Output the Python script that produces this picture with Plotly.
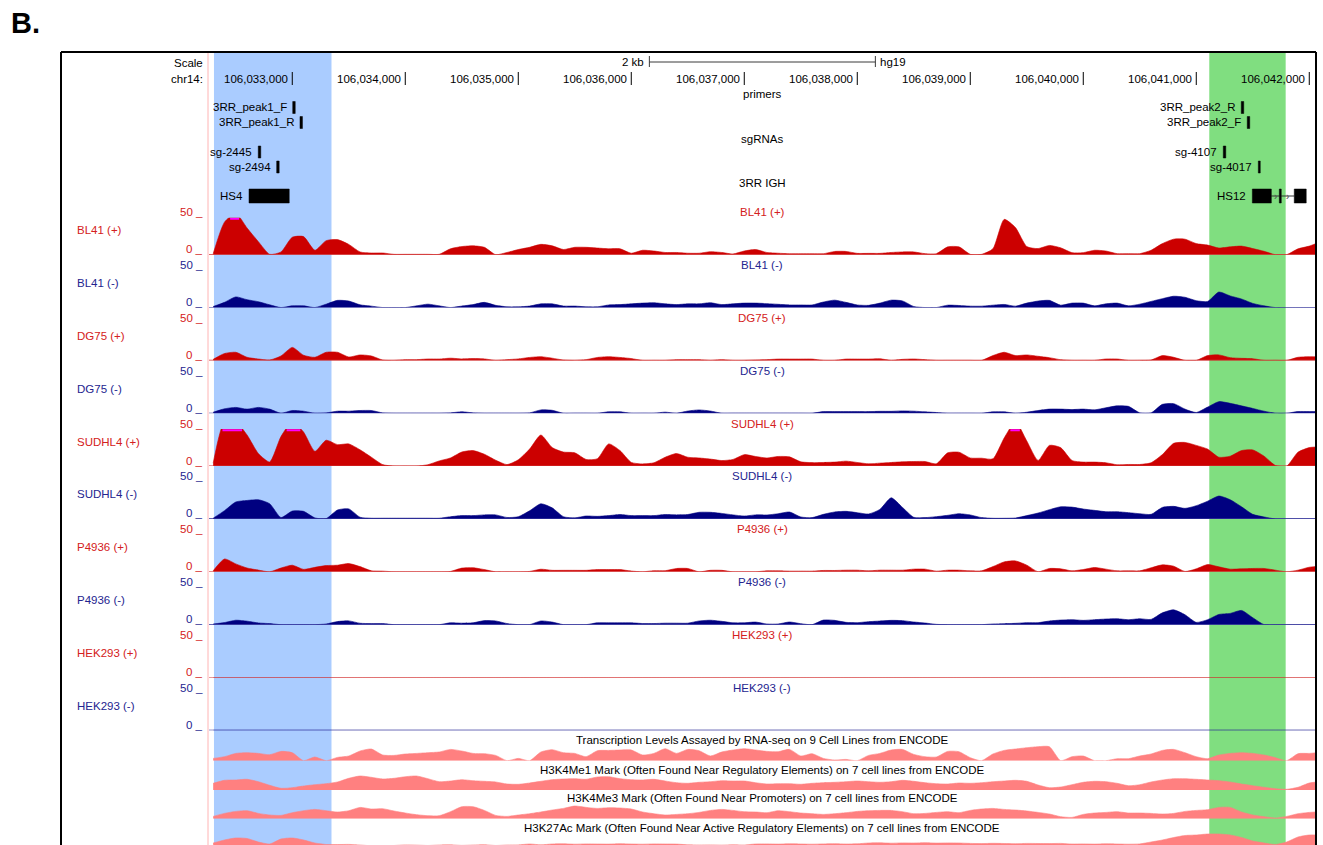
import plotly.graph_objects as go

# ---------------------------------------------------------------- data
ASSEMBLY = "hg19"
CHROM = "chr14"
VIEW = (106_032_263, 106_042_055)
RULER_TICKS = [106_033_000, 106_034_000, 106_035_000, 106_036_000, 106_037_000,
               106_038_000, 106_039_000, 106_040_000, 106_041_000, 106_042_000]
SCALE_BAR = (106_036_160, 106_038_160)
SCALE_LABEL = "2 kb"

HIGHLIGHT_HS4 = (106_032_307, 106_033_347)
HIGHLIGHT_HS12 = (106_041_115, 106_041_791)

PRIMERS = [("3RR_peak1_F", 106_033_004, 106_033_026),
           ("3RR_peak1_R", 106_033_068, 106_033_090),
           ("3RR_peak2_R", 106_041_398, 106_041_420),
           ("3RR_peak2_F", 106_041_451, 106_041_473)]
SGRNAS = [("sg-2445", 106_032_699, 106_032_721),
          ("sg-2494", 106_032_862, 106_032_884),
          ("sg-4107", 106_041_239, 106_041_261),
          ("sg-4017", 106_041_549, 106_041_566)]
IGH_3RR = [("HS4", [(106_032_617, 106_032_973)]),
           ("HS12", [(106_041_496, 106_041_664), (106_041_735, 106_041_752),
                     (106_041_867, 106_041_973)])]

# signal bins (100 bp)
BIN_START = 106_032_300
BIN_SIZE = 100

BL41_PLUS = [1.4, 44, 56, 36, 17.6, 0.5, 3.7, 23.6, 24.5, 6, 19, 20.4, 13.9, 3.7, 2.3, 2.3, 0.5, 0.5, 0.5, 0.5,
             0.5, 8, 11, 12, 10, 0, 3, 7, 10, 14, 12, 7, 10, 10, 9, 8, 8, 2, 6, 5,
             3, 3, 2, 2, 4, 3, 1, 5, 7, 3, 2, 1.3, 1.3, 1.3, 1.3, 4.4, 4.4, 1.8, 1.8, 1.8,
             3, 3.7, 3.7, 1.4, 1.4, 10.6, 10.6, 0.5, 0.5, 8, 47.7, 36.6, 11, 8.3, 12.5, 9.3, 2.8, 2.8, 6, 5,
             1.4, 1.4, 1.4, 6, 15, 21, 21, 15, 13, 9, 10.6, 11.6, 8.3, 4.6, 0, 0, 7.9, 11.6, 17.6]
BL41_MINUS = [1.4, 7, 14.4, 10.6, 7.9, 3.7, 0, 2.3, 2.3, 0, 4.6, 9.7, 8.8, 3.7, 1.9, 0, 0, 0, 2.3, 4.6,
              2.3, 0, 2, 4, 7, 3, 1, 1, 2, 5, 5, 2, 2, 1, 1, 3.5, 4, 5, 6, 6.5,
              5, 4, 5, 5, 6.5, 4, 5, 6, 6, 5.3, 4.4, 3.5, 3.5, 3.5, 7.5, 10, 7, 3.5, 3, 6,
              10, 9, 1.4, 0, 0, 3.2, 2.8, 1.9, 1.9, 3.2, 4.2, 1.9, 6, 8.8, 9.7, 3.2, 6, 6, 2.3, 5,
              6, 2.3, 4.6, 8.3, 12, 15.3, 13.9, 9.3, 8.3, 21, 15.7, 11.6, 5.6, 2.3, 0, 0, 0, 0, 0]
DG75_PLUS = [1.4, 9.3, 11, 4.2, 1.9, 0.5, 6, 17.6, 7, 4.2, 11, 11, 4.6, 7.4, 6, 0.5, 0, 1, 1, 1.9,
             1.9, 3, 2, 2.5, 2, 0, 1, 2, 4, 5, 3, 0.5, 0, 1, 4, 5, 4, 2.5, 0, 0,
             0, 1, 1, 1, 0, 1, 0, 0, 0.5, 1, 1.8, 1.8, 1.8, 1.8, 0, 0, 1.8, 1.8, 1.8, 2.2,
             0, 1.4, 1.9, 1, 0, 0, 0, 0, 0, 6.5, 11, 6.5, 7.4, 5.6, 3.7, 0.9, 0, 0, 0, 1.9,
             1.9, 0, 0, 0.5, 6.5, 4.2, 0, 0, 6.5, 7.4, 3.7, 2.8, 2.3, 0, 0, 0, 4.2, 5, 4.6]
DG75_MINUS = [1.4, 6, 7.9, 5.6, 7.9, 5.6, 0, 3.7, 2.8, 0, 0.5, 2.8, 2.8, 3.7, 3.7, 0.5, 0, 0, 0, 0,
              0, 0.5, 2, 0.5, 0, 0, 0, 0, 0.5, 4.5, 4, 0, 0, 0, 0, 2, 2, 0, 0, 0,
              1.5, 0, 3, 4.5, 3, 0, 0, 0, 0, 0, 0, 0, 0, 0, 2.2, 2.2, 2.2, 2.2, 2.2, 2.6,
              2.6, 3.2, 2.8, 1.9, 1, 0, 0, 0, 0, 1.9, 1.9, 0, 1.4, 3.7, 5.6, 5.6, 5, 5.6, 4.6, 7.4,
              10, 9.3, 0.5, 0.5, 12, 13, 5.6, 1, 8.3, 15.7, 13.4, 10, 6.5, 2.8, 0, 0, 2.3, 2.3, 2.3]
SUDHL4_PLUS = [4, 60, 60, 42, 17, 5.6, 40, 60, 46, 20, 35, 29, 30, 22, 12, 2, 0, 0, 0, 1.9,
               7, 11, 19, 21, 16, 8, 2, 8.5, 23, 42, 25, 19, 18, 9, 10, 30, 21, 5, 3, 4.5,
               12, 17, 12, 11, 9.5, 7.5, 9, 15.5, 13, 11, 13, 12.5, 5.8, 4.7, 4.9, 5.4, 6.7, 4.9, 3.1, 4,
               4.9, 5.8, 6.2, 6.2, 3.1, 17.9, 18.8, 11, 10.7, 9.8, 38, 60, 34, 7.6, 28, 25, 7.6, 5.4, 5.4, 4.5,
               1.8, 2.2, 2.2, 4.5, 15.6, 30.8, 32, 28, 23, 12, 13.4, 21, 21.9, 13.4, 0.9, 0, 18.8, 25, 26]
SUDHL4_MINUS = [1, 11.2, 22.9, 25, 26, 20.6, 1.9, 10.7, 10.3, 1.4, 0.5, 12.1, 13.6, 2.3, 1, 1, 1, 1, 1, 1,
                1, 3, 4.5, 4.5, 5.5, 5.5, 2, 3, 11, 20.5, 15, 3, 1.5, 4, 3.5, 4.5, 6, 4.5, 4.5, 4.5,
                6, 5.5, 6, 9, 9, 7.5, 5.5, 4, 5.5, 5.4, 7.1, 9.4, 2.7, 1.8, 6.2, 9.4, 10.3, 8.5, 6.7, 12.9,
                28.6, 15.6, 2.2, 1.8, 3.1, 4.9, 7.1, 5.4, 1.8, 0.9, 0.9, 1.3, 4.5, 8, 12.5, 16.5, 16, 13.4, 11.6, 9.8,
                9.8, 8.5, 7.1, 6.2, 15.6, 17, 14.3, 17.9, 24, 31, 26, 16.5, 6.2, 2.7, 0, 0, 0, 0, 0]
P4936_PLUS = [1.4, 17.3, 10.7, 5.1, 2.3, 0, 5.1, 8.9, 3.3, 6, 8.4, 8.9, 11.2, 7, 1.4, 0.9, 0, 0, 0, 0,
              0, 0.5, 5, 5.5, 3, 0, 0, 0, 0.5, 3.5, 2, 2, 2, 2, 3, 3, 3, 1, 0, 1.5,
              1.5, 4.5, 4.5, 0, 2, 2, 0, 0, 0, 1.3, 1.3, 0.9, 0.9, 0.9, 1.8, 1.8, 2.2, 2.2, 1.3, 2.2,
              2.2, 2.2, 3.6, 3.6, 0.9, 2.2, 2.2, 1.3, 1.3, 7, 13.4, 14.7, 9, 0, 4.5, 4, 1.3, 3.1, 5.8, 3.6,
              1.3, 1.3, 1.3, 5.4, 9.4, 7.6, 0.4, 4, 9.8, 6.7, 3.6, 4, 4.5, 4.5, 2.2, 0, 2.2, 6.2, 7.6]
P4936_MINUS = [0.9, 2.8, 6, 4.7, 2.3, 1.4, 0, 0, 0, 0, 0.9, 4.2, 5.1, 1.9, 1.4, 1.4, 0, 0, 0, 0,
               0, 2.5, 2, 2.5, 5.5, 5, 1.5, 0, 0, 5, 3.5, 0, 0, 0, 2.5, 2.5, 2.5, 2.5, 1.5, 1.5,
               2, 2, 2, 5, 6, 4.5, 2.5, 2.5, 3.5, 0.9, 0.9, 3.6, 1.3, 0, 6.2, 5.8, 3.1, 2.7, 4, 4.9,
               5.8, 5.4, 3.6, 2.2, 0.4, 0, 0, 0, 0, 0.9, 1.3, 1.8, 2.7, 2.7, 4.9, 6.2, 6.7, 5.8, 6.7, 7.6,
               8, 6.7, 8, 7.1, 16, 20, 13.4, 3.1, 6.7, 13.8, 15.2, 19.2, 9.4, 0, 0, 0, 0, 0, 0]
HEK293_PLUS = [0] * 99
HEK293_MINUS = [0] * 99

SIGNAL_TRACKS = [("BL41 (+)", BL41_PLUS, "+"), ("BL41 (-)", BL41_MINUS, "-"),
                 ("DG75 (+)", DG75_PLUS, "+"), ("DG75 (-)", DG75_MINUS, "-"),
                 ("SUDHL4 (+)", SUDHL4_PLUS, "+"), ("SUDHL4 (-)", SUDHL4_MINUS, "-"),
                 ("P4936 (+)", P4936_PLUS, "+"), ("P4936 (-)", P4936_MINUS, "-"),
                 ("HEK293 (+)", HEK293_PLUS, "+"), ("HEK293 (-)", HEK293_MINUS, "-")]
SIGNAL_MAX = 50

ENC_RNA = [2.3, 4, 7.3, 8, 7.3, 6, 9.3, 8, 0, 3.7, 0, 3.3, 4.7, 9.7, 11.7, 5.7, 5.3, 6.7, 7.3, 8,
           8.7, 11.3, 9.7, 7.3, 7, 5.3, 0, 2.3, 0, 8.7, 11, 8, 7.3, 4, 10, 10.3, 10.7, 10.7, 5.7, 7.3,
           12, 7.3, 11.3, 10, 4.7, 8.7, 10.7, 12, 10.7, 9.3, 9, 11.3, 4.7, 7, 2.3, 0.7, 1.3, 0, 5.3, 7.3,
           10.7, 11.3, 6.3, 4, 3.7, 9.3, 9, 3, 0, 6.7, 10.3, 11.7, 13, 14, 14, 0, 4, 4.7, 0, 0,
           2, 2, 4.7, 6.7, 10.3, 11.3, 8, 4, 2, 5.7, 7.3, 8, 7.3, 5.7, 3, 0, 7, 7.3, 8.3]
ENC_H3K4ME1 = [6.7, 9.7, 10, 10.7, 8.3, 4.7, 1.7, 2.3, 4, 5.3, 6.3, 8, 11.7, 14, 12.7, 11, 11.7, 13.3, 14, 11.3,
               8.3, 9, 10.3, 9.3, 8.7, 8, 6, 5.7, 7, 8.7, 10.3, 11, 11.3, 10.7, 13, 13.3, 11.3, 10.3, 10, 10.7,
               9, 7.3, 6.7, 7.7, 8.3, 9.3, 9, 9, 7.3, 6, 6.3, 6.3, 5.7, 6.7, 7.3, 7.7, 8.3, 9, 8.3, 7.7,
               8.3, 9.7, 8.7, 7.3, 6.3, 6, 7, 6.7, 7.3, 8.3, 9, 9.7, 8.7, 5, 2.3, 3, 5.3, 7.7, 8.7, 8.3,
               6.7, 4.3, 5.3, 8, 10, 11.3, 11.3, 10.7, 10, 9.3, 8, 6, 4.3, 2.7, 1.3, 0.7, 2.7, 7, 8.3]
ENC_H3K4ME3 = [2.3, 5.3, 7.3, 8, 5.3, 3.7, 3.3, 6, 8, 9.3, 8, 6.7, 8, 11.3, 9.7, 10, 7.7, 5.7, 4, 3,
               3, 7, 12, 12, 8.3, 3.3, 2.3, 3.7, 5, 6.7, 8.7, 10.3, 12.7, 11.3, 10.3, 11, 10.7, 9.7, 6.7, 5,
               3.7, 4.3, 5, 6.3, 8.3, 9.3, 8.3, 7, 6.7, 6, 8, 7, 5.7, 5, 4.3, 5, 6, 7.3, 8, 8.3,
               8.3, 7, 5, 5.3, 6.3, 7, 6, 8.3, 9.7, 10.3, 9.3, 8.7, 7.7, 6.3, 4.7, 2, 1.3, 4.3, 5.7, 6.3,
               7, 5.7, 5.7, 5.3, 4.7, 5.3, 7.3, 8.3, 9, 11.3, 11.3, 6.7, 3.7, 2, 0.7, 2.3, 5, 6.3, 7]
ENC_H3K27AC = [5, 8, 10, 9.5, 6, 4, 9, 10, 8, 5, 3.5, 3.4, 3.6, 3, 2.2, 2, 2.5, 3.1, 2.9, 2.5,
               3, 3.2, 2.6, 3, 3.3, 2.5, 3, 3.1, 4, 3.2, 4, 4.2, 3.8, 4.1, 4, 3.9, 4.3, 4, 3.8, 4.1,
               4, 3.9, 3.2, 3, 3.1, 2.9, 3.2, 3, 4, 4.1, 3.9, 4.2, 4, 3.8, 4.1, 4.3, 4, 4.2, 5, 5.2,
               4.8, 5.1, 5, 5.3, 4.9, 5.1, 5, 4.6, 4.4, 4.7, 4.5, 4.3, 4.6, 4.5, 4.4, 4.6, 4, 4.1, 3.9, 4.2,
               4, 3.8, 4.1, 6, 8, 10.5, 12.5, 13, 14, 14, 13, 10.5, 7, 5, 3.5, 6, 11, 13, 13]

ENCODE_TRACKS = [
    ("Transcription Levels Assayed by RNA-seq on 9 Cell Lines from ENCODE", ENC_RNA),
    ("H3K4Me1 Mark (Often Found Near Regulatory Elements) on 7 cell lines from ENCODE", ENC_H3K4ME1),
    ("H3K4Me3 Mark (Often Found Near Promoters) on 7 cell lines from ENCODE", ENC_H3K4ME3),
    ("H3K27Ac Mark (Often Found Near Active Regulatory Elements) on 7 cell lines from ENCODE", ENC_H3K27AC),
]

# ---------------------------------------------------------------- layout helpers
W, H = 1323, 845
FONT = "Liberation Sans, Arial, sans-serif"
FS = 11.5
RED, RED_TXT, RED_BASE = "#cc0000", "#d42020", "#d23434"
BLUE, BLUE_TXT, BLUE_BASE = "#000080", "#24248f", "#30309a"
ENC_PINK = "#ff8080"

DATA_LEFT, DATA_RIGHT = 209.0, 1315.5      # pixel extent of the data image
TRACK0_BASE, TRACK_STEP, TRACK_H = 254.7, 52.85, 37.0
ENC_BASES = [760.7, 790.0, 818.7, 848.0]
ENC_H = 16.0


def px(x):
    return x / W


def py(y):
    return 1 - y / H


positions = [BIN_START + BIN_SIZE * k for k in range(len(BL41_PLUS))]
bp_per_px = (VIEW[1] - VIEW[0]) / (DATA_RIGHT - DATA_LEFT)

fig = go.Figure()
shapes, annotations = [], []
layout_axes = {}


def ax_name(n):
    return "y" if n == 1 else f"y{n}"


def clip_runs(xs, ys, cap):
    """Intervals where the signal exceeds the display ceiling."""
    runs, start = [], None
    for i, v in enumerate(ys):
        if v > cap and start is None:
            if i == 0:
                start = xs[0]
            else:
                t = (cap - ys[i - 1]) / (v - ys[i - 1])
                start = xs[i - 1] + t * (xs[i] - xs[i - 1])
        elif v <= cap and start is not None:
            t = (ys[i - 1] - cap) / (ys[i - 1] - v)
            runs.append((start, xs[i - 1] + t * (xs[i] - xs[i - 1])))
            start = None
    if start is not None:
        runs.append((start, xs[-1]))
    return runs


def area(vals, n, color):
    return go.Scatter(x=positions, y=vals, xaxis="x", yaxis=ax_name(n), mode="lines",
                      line=dict(color=color, width=0.6, shape="spline", smoothing=0.6),
                      fill="tozeroy", fillcolor=color, hoverinfo="skip", showlegend=False)


n = 0
# ---- strand-specific signal tracks
for i, (name, vals, strand) in enumerate(SIGNAL_TRACKS):
    n += 1
    base = TRACK0_BASE + TRACK_STEP * i
    col, tcol, bcol = (RED, RED_TXT, RED_BASE) if strand == "+" else (BLUE, BLUE_TXT, BLUE_BASE)
    layout_axes[f"yaxis{'' if n == 1 else n}"] = dict(
        domain=[py(base), py(base - TRACK_H)], range=[0, SIGNAL_MAX], visible=False,
        fixedrange=True, anchor="x")
    fig.add_trace(area(vals, n, col))
    for x0, x1 in clip_runs(positions, vals, SIGNAL_MAX):
        fig.add_trace(go.Scatter(x=[x0, x1], y=[SIGNAL_MAX * (1 - 1.1 / TRACK_H)] * 2,
                                 xaxis="x", yaxis=ax_name(n), mode="lines",
                                 line=dict(color="#ff00ff", width=2), hoverinfo="skip",
                                 showlegend=False))
    shapes.append(dict(type="line", xref="x domain", yref=ax_name(n), x0=0, x1=1, y0=0, y1=0,
                       line=dict(color=bcol, width=1.2), layer="above"))
    for v, lab in ((SIGNAL_MAX, f"{SIGNAL_MAX} _"), (0, "0 _")):
        annotations.append(dict(text=lab, x=px(205), xref="paper", xanchor="right",
                                y=v, yref=ax_name(n), yanchor="middle", yshift=5.5,
                                showarrow=False, font=dict(color=tcol, size=FS, family=FONT)))
    annotations.append(dict(text=name, x=0.5, xref="x domain", xanchor="center",
                            y=SIGNAL_MAX, yref=ax_name(n), yanchor="middle", yshift=5.5,
                            showarrow=False, font=dict(color=tcol, size=FS, family=FONT)))
    annotations.append(dict(text=name, x=px(75), xref="paper", xanchor="left",
                            y=py(base - 24.5), yref="paper", yanchor="middle",
                            showarrow=False, font=dict(color=tcol, size=FS, family=FONT)))

# ---- ENCODE regulation tracks
for j, (title, vals) in enumerate(ENCODE_TRACKS):
    n += 1
    base = ENC_BASES[j]
    lo = max(0.0, base - H)
    layout_axes[f"yaxis{n}"] = dict(
        domain=[py(min(base, H)), py(base - ENC_H)], range=[lo, ENC_H], visible=False,
        fixedrange=True, anchor="x")
    fig.add_trace(area(vals, n, ENC_PINK))
    annotations.append(dict(text=title, x=0.5, xref="x domain", xanchor="center",
                            y=py(base - 20.5), yref="paper", yanchor="middle",
                            showarrow=False, font=dict(color="#000000", size=FS, family=FONT)))

# ---- highlighted regions
for (s, e), col in ((HIGHLIGHT_HS4, "#aaccff"), (HIGHLIGHT_HS12, "#80de80")):
    shapes.append(dict(type="rect", xref="x", yref="paper", x0=s, x1=e, y0=0, y1=py(53),
                       fillcolor=col, line=dict(width=0), layer="below"))

# ---- ruler
annotations += [
    dict(text="Scale", x=px(205), xref="paper", xanchor="right", y=py(63), yref="paper",
         yanchor="middle", showarrow=False, font=dict(size=FS, family=FONT, color="#000")),
    dict(text=f"{CHROM}:", x=px(205), xref="paper", xanchor="right", y=py(79), yref="paper",
         yanchor="middle", showarrow=False, font=dict(size=FS, family=FONT, color="#000")),
    dict(text=SCALE_LABEL, x=SCALE_BAR[0], xref="x", xanchor="right", xshift=-3, y=py(62),
         yref="paper", yanchor="middle", showarrow=False,
         font=dict(size=FS, family=FONT, color="#000")),
    dict(text=ASSEMBLY, x=SCALE_BAR[1], xref="x", xanchor="left", xshift=3, y=py(62),
         yref="paper", yanchor="middle", showarrow=False,
         font=dict(size=FS, family=FONT, color="#000")),
]
shapes.append(dict(type="line", xref="x", yref="paper", x0=SCALE_BAR[0], x1=SCALE_BAR[1],
                   y0=py(62), y1=py(62), line=dict(color="#3a3a3a", width=1)))
for xb in SCALE_BAR:
    shapes.append(dict(type="line", xref="x", yref="paper", x0=xb, x1=xb, y0=py(56), y1=py(67),
                       line=dict(color="#3a3a3a", width=1)))
for t in RULER_TICKS:
    shapes.append(dict(type="line", xref="x", yref="paper", x0=t, x1=t, y0=py(72), y1=py(85),
                       line=dict(color="#000", width=1)))
    annotations.append(dict(text=f"{t:,}", x=t, xref="x", xanchor="right", xshift=-2,
                            y=py(79), yref="paper", yanchor="middle", showarrow=False,
                            font=dict(size=FS, family=FONT, color="#000")))

# ---- annotation feature tracks (pack mode)
GROUP_TITLES = [("primers", 94), ("sgRNAs", 139), ("3RR IGH", 183)]
for title, y in GROUP_TITLES:
    annotations.append(dict(text=title, x=0.5, xref="x domain", xanchor="center", y=py(y),
                            yref="paper", yanchor="middle", showarrow=False,
                            font=dict(size=FS, family=FONT, color="#000")))


def pack(features):
    """Greedy row packing with the label drawn left of each feature."""
    rows_end, placed = [], []
    for name, s, e in sorted(features, key=lambda f: f[1]):
        left = s - (len(name) * 6.6 + 6) * bp_per_px
        for r, end in enumerate(rows_end):
            if left > end:
                rows_end[r] = e
                placed.append((name, s, e, r))
                break
        else:
            rows_end.append(e)
            placed.append((name, s, e, len(rows_end) - 1))
    return placed


def draw_feature(name, blocks, yc, h):
    for s, e in blocks:
        shapes.append(dict(type="rect", xref="x", yref="paper", x0=s, x1=e,
                           y0=py(yc + h / 2), y1=py(yc - h / 2), fillcolor="#000",
                           line=dict(color="#000", width=0.5)))
    annotations.append(dict(text=name, x=blocks[0][0], xref="x", xanchor="right", xshift=-4,
                            y=py(yc), yref="paper", yanchor="middle", showarrow=False,
                            font=dict(size=FS, family=FONT, color="#000")))


for rows_y, feats in (((107.5, 122.5), PRIMERS), ((152, 167), SGRNAS)):
    for name, s, e, r in pack(feats):
        draw_feature(name, [(s, e)], rows_y[r], 12)

for name, blocks in IGH_3RR:
    for (s0, e0), (s1, e1) in zip(blocks[:-1], blocks[1:]):
        shapes.append(dict(type="line", xref="x", yref="paper", x0=e0, x1=s1,
                           y0=py(196), y1=py(196), line=dict(color="#333", width=1)))
        mid = (e0 + s1) / 2
        annotations.append(dict(text="›", x=mid, xref="x", xanchor="center", y=py(196),
                                yref="paper", yanchor="middle", showarrow=False,
                                font=dict(size=10, family=FONT, color="#555")))
    draw_feature(name, blocks, 196, 14)

# ---- browser frame
shapes += [
    dict(type="line", xref="paper", yref="paper", x0=px(61), x1=px(1316), y0=py(52), y1=py(52),
         line=dict(color="#000", width=2)),
    dict(type="line", xref="paper", yref="paper", x0=px(61), x1=px(61), y0=py(52), y1=0,
         line=dict(color="#000", width=2)),
    dict(type="line", xref="paper", yref="paper", x0=px(1316), x1=px(1316), y0=py(52), y1=0,
         line=dict(color="#000", width=2)),
    dict(type="line", xref="paper", yref="paper", x0=px(208), x1=px(208), y0=py(53), y1=0,
         line=dict(color="#ffb4b4", width=1)),
]
annotations.append(dict(text="<b>B.</b>", x=px(9), xref="paper", xanchor="left", y=py(23),
                        yref="paper", yanchor="middle", showarrow=False,
                        font=dict(size=29, family=FONT, color="#000")))

fig.update_layout(
    width=W, height=H, margin=dict(l=0, r=0, t=0, b=0),
    paper_bgcolor="white", plot_bgcolor="rgba(0,0,0,0)",
    xaxis=dict(domain=[px(DATA_LEFT), px(DATA_RIGHT)], range=list(VIEW), visible=False,
               fixedrange=True),
    shapes=shapes, annotations=annotations, showlegend=False,
    **layout_axes,
)
fig.write_html("out.html", config={"displayModeBar": False})
